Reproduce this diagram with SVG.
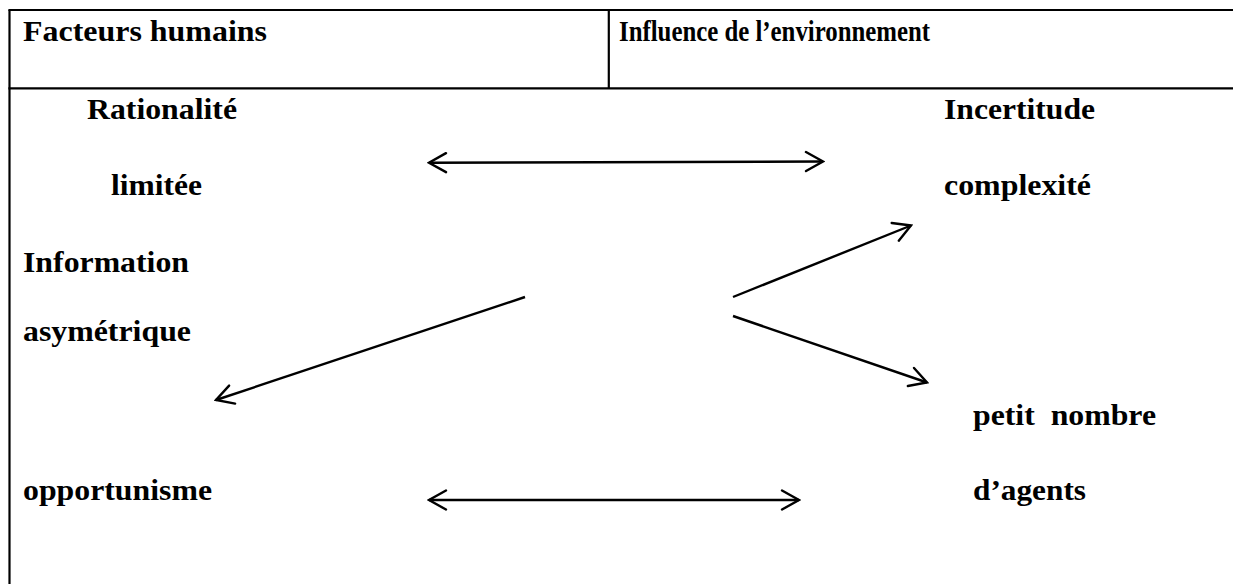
<svg xmlns="http://www.w3.org/2000/svg" width="1233" height="584" viewBox="0 0 1233 584">
  <style>
    .rule { stroke: #000; stroke-width: 2.2; fill: none; }
    .lbl { font-family: "Liberation Serif", "Times New Roman", serif; font-weight: bold; font-size: 30px; fill: #000; }
    .link { stroke: #000; stroke-width: 2.4; fill: none; }
  </style>
  <defs>
    <marker id="chev" markerUnits="userSpaceOnUse" viewBox="-20 -12 22 24" markerWidth="22" markerHeight="24" refX="0" refY="0" orient="auto-start-reverse">
      <path d="M-17,-9.5 L0,0 L-17,9.5" fill="none" stroke="#000" stroke-width="2.4" stroke-linecap="round" stroke-linejoin="miter"/>
    </marker>
  </defs>
  <rect width="1233" height="584" fill="#fff"/>

  <!-- table frame -->
  <g id="table">
    <line class="rule" x1="9.5" y1="10" x2="9.5" y2="584"/>
    <line class="rule" x1="8.4" y1="10" x2="1233" y2="10"/>
    <line class="rule" x1="8.4" y1="88.3" x2="1233" y2="88.3"/>
    <line class="rule" x1="608.8" y1="10" x2="608.8" y2="88.3"/>
  </g>

  <!-- column headers -->
  <g id="head-left">
    <text class="lbl" x="23" y="40.5" textLength="244" lengthAdjust="spacingAndGlyphs">Facteurs humains</text>
  </g>
  <g id="head-right">
    <text class="lbl" x="619" y="40.5" textLength="311" lengthAdjust="spacingAndGlyphs">Influence de l’environnement</text>
  </g>

  <!-- human factors -->
  <g id="rationalite">
    <text class="lbl" x="87" y="118.5" textLength="150" lengthAdjust="spacingAndGlyphs">Rationalité</text>
    <text class="lbl" x="111" y="195" textLength="91" lengthAdjust="spacingAndGlyphs">limitée</text>
  </g>
  <g id="information">
    <text class="lbl" x="23" y="272" textLength="166" lengthAdjust="spacingAndGlyphs">Information</text>
    <text class="lbl" x="23" y="341" textLength="168" lengthAdjust="spacingAndGlyphs">asymétrique</text>
  </g>
  <g id="opportunisme">
    <text class="lbl" x="23" y="500" textLength="189" lengthAdjust="spacingAndGlyphs">opportunisme</text>
  </g>

  <!-- environment -->
  <g id="incertitude">
    <text class="lbl" x="944" y="118.5" textLength="151" lengthAdjust="spacingAndGlyphs">Incertitude</text>
    <text class="lbl" x="944" y="195" textLength="147" lengthAdjust="spacingAndGlyphs">complexité</text>
  </g>
  <g id="petit-nombre">
    <text class="lbl" x="973" y="425" textLength="183" lengthAdjust="spacingAndGlyphs" xml:space="preserve">petit  nombre</text>
    <text class="lbl" x="973" y="500" textLength="113" lengthAdjust="spacingAndGlyphs">d’agents</text>
  </g>

  <!-- connectors -->
  <g id="connectors">
    <line class="link" x1="429" y1="162.7" x2="823" y2="161.5" marker-start="url(#chev)" marker-end="url(#chev)"/>
    <line class="link" x1="429" y1="500" x2="799" y2="500" marker-start="url(#chev)" marker-end="url(#chev)"/>
    <line class="link" x1="525" y1="297" x2="216" y2="400" marker-end="url(#chev)"/>
    <line class="link" x1="733" y1="297" x2="911" y2="225.5" marker-end="url(#chev)"/>
    <line class="link" x1="733" y1="316" x2="927" y2="382.5" marker-end="url(#chev)"/>
  </g>
</svg>
